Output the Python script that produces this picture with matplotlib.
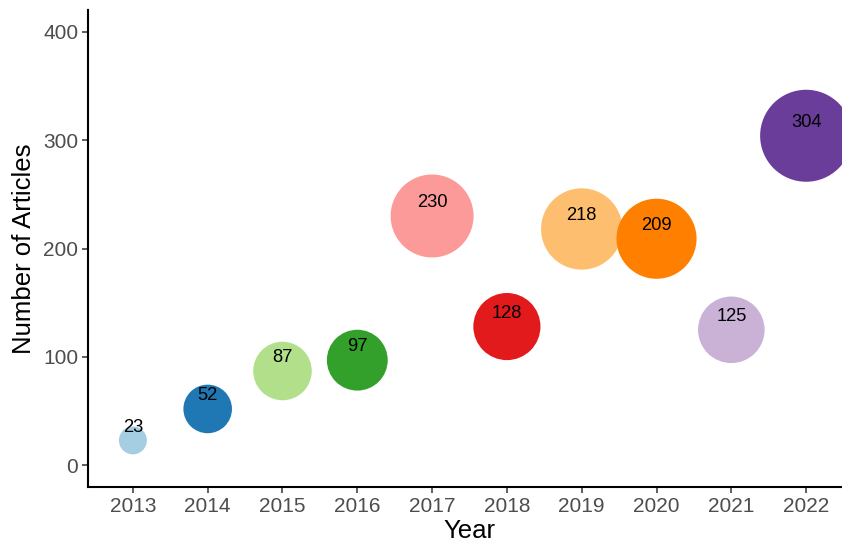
import numpy as np
import matplotlib.pyplot as plt

years = [2013, 2014, 2015, 2016, 2017, 2018, 2019, 2020, 2021, 2022]
articles = [23, 52, 87, 97, 230, 128, 218, 209, 125, 304]
colors = ['#A6CEE3', '#1F78B4', '#B2DF8A', '#33A02C', '#FB9A99',
          '#E31A1C', '#FDBF6F', '#FF7F00', '#CAB2D6', '#6A3D9A']

plt.rcParams['font.family'] = ['Liberation Sans', 'DejaVu Sans']

fig = plt.figure(figsize=(8.42, 5.44), dpi=100)
ax = fig.add_axes([88 / 842, 1 - 487 / 544, 763 / 842, 477 / 544])

# size scale like ggplot: radius grows with sqrt of rescaled value
v = np.array(articles, dtype=float)
frac = np.sqrt((v - v.min()) / (v.max() - v.min()))
r_px = 14 + 32 * frac
sizes = (2 * r_px * 0.72) ** 2

ax.scatter(years, articles, s=sizes, c=colors, edgecolors='none', zorder=2)
for x, y in zip(years, articles):
    ax.annotate(str(y), (x, y), xytext=(0, 9.5), textcoords='offset points',
                ha='center', va='center', fontsize=13.2, color='black', zorder=3)

ax.set_xlim(2012.4, 2022.6)
ax.set_ylim(-20, 420)
ax.set_xticks(years)
ax.set_yticks([0, 100, 200, 300, 400])
ax.set_xlabel('Year', fontsize=18.5, labelpad=2)
ax.set_ylabel('Number of Articles', fontsize=18.5, labelpad=5)
ax.tick_params(labelsize=15, labelcolor='#4D4D4D', color='#333333',
               length=4, width=1.1, pad=3)
ax.spines['top'].set_visible(False)
ax.spines['right'].set_visible(False)
for s in ['left', 'bottom']:
    ax.spines[s].set_linewidth(1.5)

fig.savefig('out.png', dpi=100)
